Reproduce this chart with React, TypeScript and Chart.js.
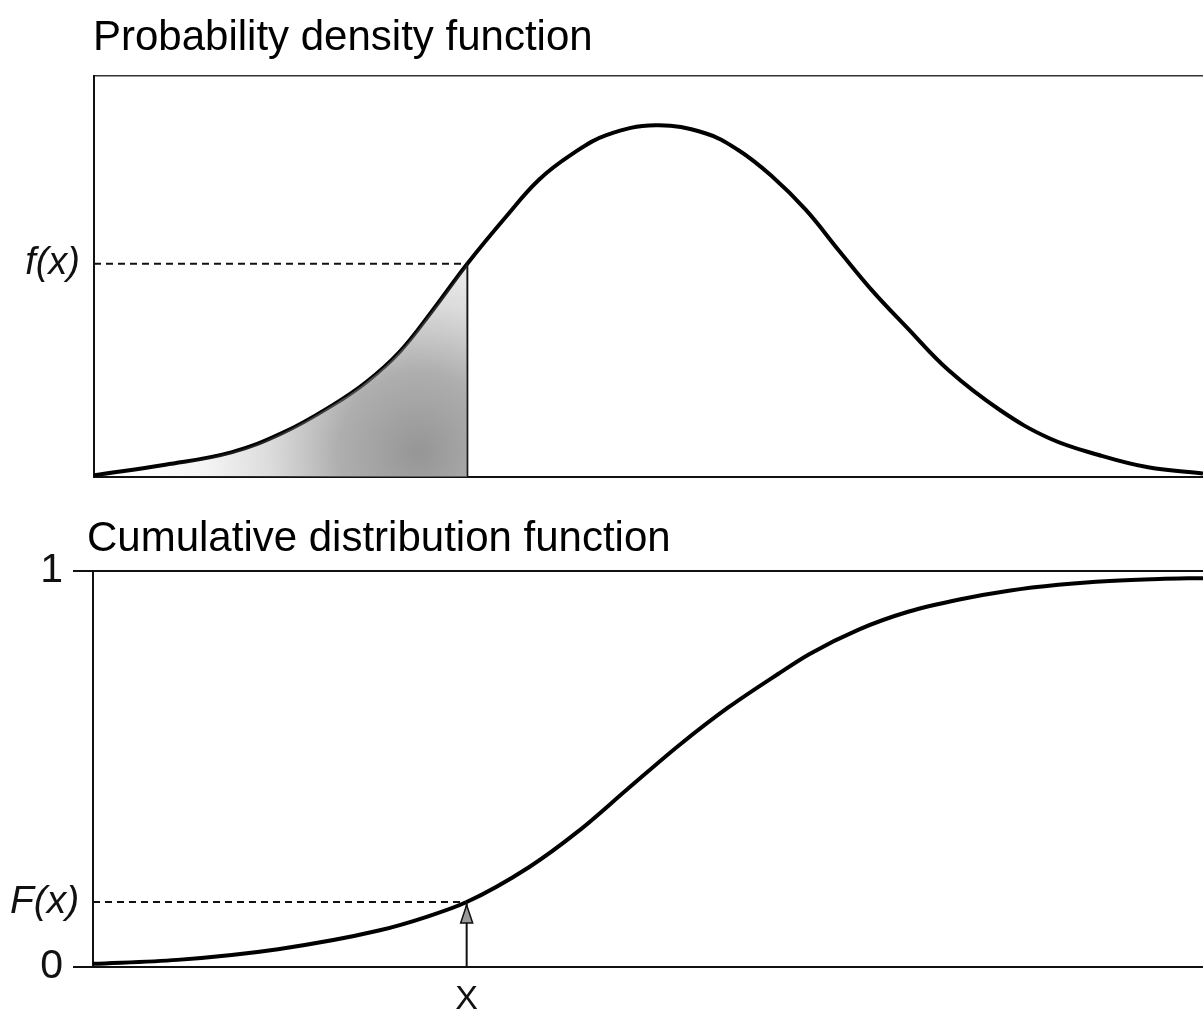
import React, { useEffect, useRef } from "react";
import { Chart, registerables } from "chart.js";
Chart.register(...registerables);

// ---- data ----
const X_MIN = -3.06;
const X_MAX = 3.0;
const xMark = -1.02;
const fMark = 0.242;
const FMark = 0.164;

const pdfX = [-3.06, -2.67, -2.31, -2.03, -1.76, -1.57, -1.39, -1.21, -1.02, -0.81, -0.63, -0.45, -0.26, 0.01, 0.28, 0.46, 0.64, 0.83, 1.01, 1.19, 1.38, 1.61, 1.89, 2.16, 2.43, 2.7, 3.0];
const pdfY = [0.002, 0.014, 0.028, 0.05, 0.081, 0.108, 0.142, 0.189, 0.242, 0.295, 0.337, 0.366, 0.388, 0.399, 0.39, 0.371, 0.342, 0.303, 0.257, 0.212, 0.17, 0.121, 0.076, 0.044, 0.025, 0.011, 0.004];

const cdfX = [-3.06, -2.6, -2.05, -1.5, -1.23, -1.02, -0.68, -0.41, -0.14, 0.14, 0.41, 0.68, 0.85, 1.12, 1.39, 1.67, 1.94, 2.21, 2.49, 2.76, 3.0];
const cdfY = [0.008, 0.018, 0.045, 0.092, 0.128, 0.164, 0.252, 0.343, 0.45, 0.56, 0.656, 0.74, 0.79, 0.852, 0.897, 0.928, 0.95, 0.965, 0.975, 0.98, 0.982];

const topTitle = "Probability density function";
const bottomTitle = "Cumulative distribution function";
const topTickLabel = "f(x)";
const bottomTickLabels = ["0", "F(x)", "1"];
const xTickLabel = "X";

const FONT = '"Liberation Sans", Arial, Helvetica, sans-serif';
const INK = "#111";

const titlePlugin = {
  id: "panelTitle",
  afterDraw(chart: any, _a: any, opts: any) {
    if (!opts || !opts.text) return;
    const { ctx, chartArea } = chart;
    ctx.save();
    ctx.font = `${opts.size}px ${FONT}`;
    ctx.fillStyle = "#000";
    ctx.textAlign = "left";
    ctx.textBaseline = "alphabetic";
    ctx.fillText(opts.text, chartArea.left + opts.dx, chartArea.top + opts.dy);
    ctx.restore();
  },
};

const arrowPlugin = {
  id: "arrowHead",
  afterDatasetsDraw(chart: any, _a: any, opts: any) {
    if (!opts || !opts.on) return;
    const { ctx } = chart;
    const px = chart.scales.x.getPixelForValue(xMark);
    const py = chart.scales.y.getPixelForValue(FMark) + 3;
    ctx.save();
    ctx.beginPath();
    ctx.moveTo(px, py);
    ctx.lineTo(px - 6, py + 18);
    ctx.lineTo(px + 6, py + 18);
    ctx.closePath();
    ctx.fillStyle = "#9a9a9a";
    ctx.fill();
    ctx.lineWidth = 1.5;
    ctx.strokeStyle = INK;
    ctx.stroke();
    ctx.restore();
  },
};

function pts(xs: number[], ys: number[]) {
  return xs.map((x, i) => ({ x, y: ys[i] }));
}

function shadeFill(ctx: any) {
  const chart = ctx.chart;
  const area = chart.chartArea;
  if (!area) return "rgba(140,140,140,0.4)";
  const xr = chart.scales.x.getPixelForValue(xMark);
  const w = xr - area.left;
  const g = chart.ctx.createRadialGradient(xr - w * 0.13, area.bottom - 25, 0, xr - w * 0.13, area.bottom - 25, w * 0.72);
  g.addColorStop(0, "rgba(120,120,120,0.78)");
  g.addColorStop(0.3, "rgba(125,125,125,0.62)");
  g.addColorStop(0.55, "rgba(135,135,135,0.3)");
  g.addColorStop(0.8, "rgba(150,150,150,0.1)");
  g.addColorStop(1, "rgba(160,160,160,0.02)");
  return g;
}

function TopChart() {
  const ref = useRef<HTMLCanvasElement>(null);
  useEffect(() => {
    const pdf = pts(pdfX, pdfY);
    const shaded = pdf.filter((p) => p.x <= xMark);
    const chart = new Chart(ref.current!, {
      type: "line",
      data: {
        datasets: [
          {
            data: shaded,
            borderWidth: 0,
            pointRadius: 0,
            fill: "origin",
            backgroundColor: shadeFill as any,
            tension: 0.4,
          },
          {
            data: [
              { x: X_MIN, y: fMark },
              { x: xMark, y: fMark },
            ],
            borderColor: INK,
            borderWidth: 2,
            borderDash: [7, 5],
            pointRadius: 0,
            fill: false,
          },
          {
            data: [
              { x: xMark, y: 0 },
              { x: xMark, y: fMark },
            ],
            borderColor: INK,
            borderWidth: 2,
            pointRadius: 0,
            fill: false,
          },
          {
            data: pdf,
            borderColor: "#000",
            borderWidth: 4,
            pointRadius: 0,
            fill: false,
            tension: 0.4,
          },
        ],
      },
      options: {
        animation: false,
        responsive: false,
        devicePixelRatio: 1,
        layout: { padding: { top: 76, left: 0, right: 0, bottom: 0 } },
        plugins: {
          legend: { display: false },
          tooltip: { enabled: false },
          panelTitle: { text: topTitle, size: 42, dx: -1, dy: -26 },
        } as any,
        scales: {
          x: {
            type: "linear",
            min: X_MIN,
            max: X_MAX,
            grid: { display: false, drawTicks: false },
            border: { display: true, color: INK, width: 2 },
            ticks: { display: false },
            afterFit: (s: any) => {
              s.height = 23;
            },
          },
          x2: {
            type: "linear",
            position: "top",
            min: X_MIN,
            max: X_MAX,
            grid: { display: false, drawTicks: false },
            border: { display: true, color: "#333", width: 1.5 },
            ticks: { display: false },
            afterFit: (s: any) => {
              s.height = 0;
            },
          },
          y: {
            type: "linear",
            min: 0,
            max: 0.455,
            grid: { display: false, drawTicks: false },
            border: { display: true, color: INK, width: 2 },
            afterBuildTicks: (s: any) => {
              s.ticks = [{ value: fMark }];
            },
            ticks: {
              autoSkip: false,
              maxRotation: 0,
              padding: 14,
              color: INK,
              font: { family: FONT, size: 38, style: "italic" },
              callback: () => topTickLabel,
            },
            afterFit: (s: any) => {
              s.width = 94;
              s.paddingTop = 0;
              s.paddingBottom = 0;
            },
          },
        },
      },
      plugins: [titlePlugin],
    } as any);
    return () => chart.destroy();
  }, []);
  return <canvas ref={ref} width={1203} height={500} style={{ position: "absolute", left: 0, top: 0 }} />;
}

function BottomChart() {
  const ref = useRef<HTMLCanvasElement>(null);
  useEffect(() => {
    const labelFor = (v: number) => (v === 0 ? bottomTickLabels[0] : v === 1 ? bottomTickLabels[2] : bottomTickLabels[1]);
    const chart = new Chart(ref.current!, {
      type: "line",
      data: {
        datasets: [
          {
            data: [
              { x: X_MIN, y: FMark },
              { x: xMark, y: FMark },
            ],
            borderColor: INK,
            borderWidth: 2,
            borderDash: [7, 5],
            pointRadius: 0,
            fill: false,
          },
          {
            data: [
              { x: xMark, y: 0 },
              { x: xMark, y: FMark },
            ],
            borderColor: INK,
            borderWidth: 2,
            pointRadius: 0,
            fill: false,
          },
          {
            data: pts(cdfX, cdfY),
            borderColor: "#000",
            borderWidth: 4,
            pointRadius: 0,
            fill: false,
            cubicInterpolationMode: "monotone",
          },
        ],
      },
      options: {
        animation: false,
        responsive: false,
        devicePixelRatio: 1,
        layout: { padding: { top: 71, left: 0, right: 0, bottom: 0 } },
        plugins: {
          legend: { display: false },
          tooltip: { enabled: false },
          panelTitle: { text: bottomTitle, size: 42, dx: -6, dy: -20 },
          arrowHead: { on: true },
        } as any,
        scales: {
          x: {
            type: "linear",
            min: X_MIN,
            max: X_MAX,
            grid: { display: false, drawTicks: false },
            border: { display: true, color: INK, width: 2 },
            afterBuildTicks: (s: any) => {
              s.ticks = [{ value: xMark }];
            },
            ticks: {
              autoSkip: false,
              maxRotation: 0,
              padding: 12,
              color: INK,
              font: { family: FONT, size: 34 },
              callback: () => xTickLabel,
            },
            afterFit: (s: any) => {
              s.height = 46;
            },
          },
          y: {
            type: "linear",
            position: "left",
            weight: 1,
            min: 0,
            max: 1,
            grid: {
              display: true,
              drawOnChartArea: true,
              drawTicks: true,
              tickLength: 20,
              lineWidth: 2,
              color: INK,
            },
            border: { display: true, color: INK, width: 2 },
            afterBuildTicks: (s: any) => {
              s.ticks = [{ value: 0 }, { value: 1 }];
            },
            ticks: {
              autoSkip: false,
              maxRotation: 0,
              padding: 10,
              color: INK,
              font: { family: FONT, size: 41 },
              callback: (v: any) => labelFor(Number(v)),
            },
            afterFit: (s: any) => {
              s.width = 93;
              s.paddingTop = 0;
              s.paddingBottom = 0;
            },
          },
          y2: {
            type: "linear",
            position: "left",
            weight: 0,
            min: 0,
            max: 1,
            grid: { display: false, drawTicks: false },
            border: { display: false },
            afterBuildTicks: (s: any) => {
              s.ticks = [{ value: FMark }];
            },
            ticks: {
              autoSkip: false,
              maxRotation: 0,
              mirror: true,
              padding: -83,
              color: INK,
              font: { family: FONT, size: 39, style: "italic" },
              callback: () => bottomTickLabels[1],
            },
            afterFit: (s: any) => {
              s.width = 0;
              s.paddingTop = 0;
              s.paddingBottom = 0;
            },
          },
        },
      },
      plugins: [titlePlugin, arrowPlugin],
    } as any);
    return () => chart.destroy();
  }, []);
  return <canvas ref={ref} width={1203} height={513} style={{ position: "absolute", left: 0, top: 500 }} />;
}

export default function App() {
  return (
    <div style={{ position: "absolute", left: 0, top: 0, width: 1203, height: 1013, background: "#fff", overflow: "hidden" }}>
      <TopChart />
      <BottomChart />
    </div>
  );
}
